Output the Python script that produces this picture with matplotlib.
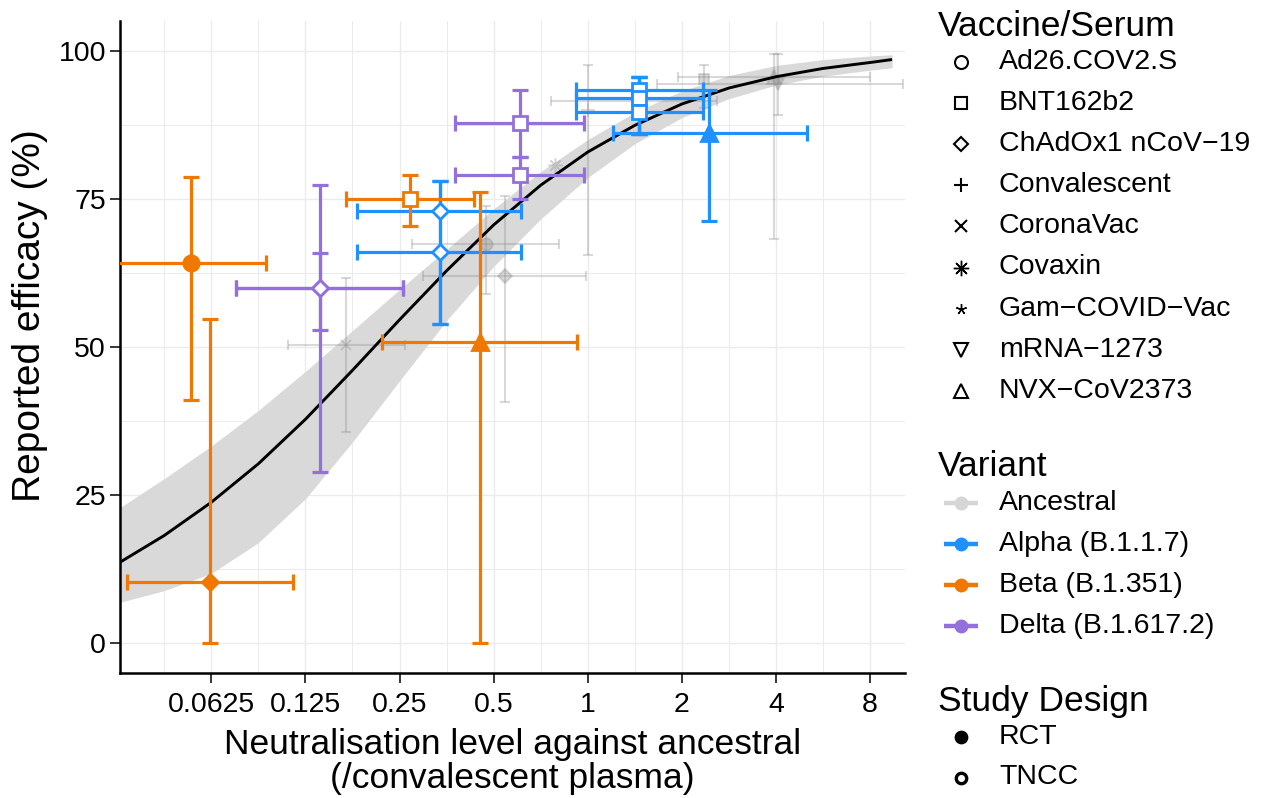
"""Efficacy against neutralisation level, by variant, vaccine and study design."""

import numpy as np
import matplotlib
matplotlib.use('agg')
from matplotlib import pyplot
from matplotlib.ticker import FixedLocator, NullFormatter

pyplot.rcParams['font.family'] = ['Liberation Sans', 'DejaVu Sans']

OUTPUT_FILE_NAME = 'out.png'

# fitted curve and its band
CURVE_NEUT = [0.03125, 0.0442, 0.0625, 0.0884, 0.125, 0.177, 0.25, 0.354,
              0.5, 0.707, 1.0, 1.414, 2.0, 2.83, 4.0, 5.66, 8.0, 9.4]
CURVE_EFFICACY = [13.4, 18.2, 23.8, 30.3, 37.8, 46.1, 54.6, 62.9,
                  70.6, 77.3, 82.9, 87.4, 91.0, 93.7, 95.6, 97.0, 98.0, 98.5]
BAND_LOWER = [6.8, 8.9, 11.8, 17.0, 24.4, 34.0, 44.3, 54.5,
              63.6, 71.6, 78.6, 84.3, 88.7, 91.9, 94.2, 95.7, 96.7, 97.1]
BAND_UPPER = [22.6, 27.8, 33.3, 39.3, 45.9, 52.8, 59.7, 66.5,
              73.3, 79.6, 85.0, 89.6, 93.2, 95.8, 97.5, 98.5, 99.1, 99.3]

# one entry per study
NAN = np.nan
VARIANT = ['Ancestral'] * 9 + ['Alpha (B.1.1.7)'] * 6 + \
    ['Beta (B.1.351)'] * 4 + ['Delta (B.1.617.2)'] * 4
VACCINE = [
    'Ad26.COV2.S', 'ChAdOx1 nCoV−19', 'CoronaVac', 'Covaxin', 'Convalescent',
    'Gam−COVID−Vac', 'BNT162b2', 'mRNA−1273', 'NVX−CoV2373',
    'ChAdOx1 nCoV−19', 'ChAdOx1 nCoV−19', 'BNT162b2', 'BNT162b2', 'BNT162b2',
    'NVX−CoV2373',
    'Ad26.COV2.S', 'ChAdOx1 nCoV−19', 'NVX−CoV2373', 'BNT162b2',
    'ChAdOx1 nCoV−19', 'ChAdOx1 nCoV−19', 'BNT162b2', 'BNT162b2'
]
DESIGN = ['RCT'] * 9 + ['TNCC'] * 5 + ['RCT'] + ['RCT'] * 3 + ['TNCC'] + \
    ['TNCC'] * 4
NEUT = [0.474, 0.543, 0.169, 0.784, 1.0, 1.42, 2.36, 4.06, 3.94,
        0.336, 0.336, 1.46, 1.46, 1.46, 2.44,
        0.0537, 0.0617, 0.451, 0.270,
        0.139, 0.139, 0.606, 0.606]
NEUT_LOW = [0.275, 0.297, 0.110, NAN, NAN, 0.765, NAN, 1.66, 1.944,
            0.183, 0.183, 0.92, 0.92, 0.92, 1.20,
            0.02, 0.0336, 0.2205, 0.169,
            0.0752, 0.0752, 0.376, 0.376]
NEUT_HIGH = [0.809, 0.986, 0.260, NAN, NAN, 2.58, NAN, 10.2, 7.99,
             0.613, 0.613, 2.34, 2.34, 2.34, 5.01,
             0.0932, 0.1139, 0.924, 0.432,
             0.2564, 0.2564, 0.973, 0.973]
EFFICACY = [67.3, 61.9, 50.3, 80.7, 90.0, 91.5, 95.2, 94.3, 95.6,
            72.9, 66.0, 93.4, 92.0, 89.6, 86.1,
            64.1, 10.4, 50.8, 74.9,
            59.9, 59.9, 87.8, 79.0]
EFFICACY_LOW = [59.0, 40.7, 35.7, NAN, 65.5, NAN, 90.3, 89.1, 68.2,
                53.9, 53.9, 85.9, 85.9, 85.9, 71.3,
                41.1, 0.0, 0.0, 70.4,
                28.9, 52.9, 82.0, 75.0]
EFFICACY_HIGH = [73.8, 75.5, 61.6, NAN, 97.6, NAN, 97.5, 99.4, 99.4,
                 78.0, 78.0, 95.6, 95.6, 95.6, 93.4,
                 78.7, 54.7, 76.2, 79.0,
                 77.3, 65.9, 93.3, 82.0]

VACCINE_NAMES = ['Ad26.COV2.S', 'BNT162b2', 'ChAdOx1 nCoV−19', 'Convalescent',
                 'CoronaVac', 'Covaxin', 'Gam−COVID−Vac', 'mRNA−1273',
                 'NVX−CoV2373']
VARIANT_NAMES = ['Ancestral', 'Alpha (B.1.1.7)', 'Beta (B.1.351)',
                 'Delta (B.1.617.2)']
DESIGN_NAMES = ['RCT', 'TNCC']

X_TICK_VALUES = [0.0625, 0.125, 0.25, 0.5, 1, 2, 4, 8]
X_TICK_LABELS = ['0.0625', '0.125', '0.25', '0.5', '1', '2', '4', '8']
Y_TICK_VALUES = [0, 25, 50, 75, 100]

VARIANT_COLOURS = {
    'Ancestral': '#8C8C8C',
    'Alpha (B.1.1.7)': '#1E90FF',
    'Beta (B.1.351)': '#F07800',
    'Delta (B.1.617.2)': '#9370DB'
}
LEGEND_VARIANT_COLOURS = ['#D6D6D6', '#1E90FF', '#F07800', '#9370DB']
VACCINE_MARKERS = {
    'Ad26.COV2.S': 'o', 'BNT162b2': 's', 'ChAdOx1 nCoV−19': 'D',
    'Convalescent': '+', 'CoronaVac': 'x', 'Covaxin': (8, 2, 0),
    'Gam−COVID−Vac': (5, 2, 0), 'mRNA−1273': 'v', 'NVX−CoV2373': '^'
}
MARKER_SIZES = {
    'o': 11, 's': 9.5, 'D': 8.5, '+': 12, 'x': 9.5, 'v': 11.5, '^': 12
}
STAR_SIZES = {'Covaxin': 13, 'Gam−COVID−Vac': 9}

FIGURE_WIDTH_PX = 1267
FIGURE_HEIGHT_PX = 798
GRID_COLOUR = '#EBEBEB'
BAND_COLOUR = '#D9D9D9'


def _marker_size(name):
    """Returns marker size (points) for one vaccine."""

    if name in STAR_SIZES:
        return STAR_SIZES[name]
    return MARKER_SIZES[VACCINE_MARKERS[name]]


def _plot_study(axes_object, i):
    """Plots one study (point with horizontal and vertical error bars)."""

    variant = VARIANT[i]
    is_ancestral = variant == 'Ancestral'
    colour = VARIANT_COLOURS[variant]
    alpha = 0.33 if is_ancestral else 1.
    line_width = 1.5 if is_ancestral else 2.3
    cap_size = 3.5 if is_ancestral else 5.5
    z_order = 2 if is_ancestral else 4

    x = NEUT[i]
    y = EFFICACY[i]

    if not np.isnan(EFFICACY_LOW[i]):
        axes_object.errorbar(
            [x], [y], yerr=[[y - EFFICACY_LOW[i]], [EFFICACY_HIGH[i] - y]],
            fmt='none', ecolor=colour, elinewidth=line_width,
            capsize=cap_size, capthick=line_width, alpha=alpha, zorder=z_order
        )
    if not np.isnan(NEUT_LOW[i]):
        axes_object.errorbar(
            [x], [y], xerr=[[x - NEUT_LOW[i]], [NEUT_HIGH[i] - x]],
            fmt='none', ecolor=colour, elinewidth=line_width,
            capsize=cap_size, capthick=line_width, alpha=alpha, zorder=z_order
        )

    marker = VACCINE_MARKERS[VACCINE[i]]
    size = _marker_size(VACCINE[i])
    edge_width = 2.0
    if is_ancestral:
        size = size * 0.8
        edge_width = 1.4
    if VACCINE[i] in STAR_SIZES:
        edge_width = 1.1

    if DESIGN[i] == 'TNCC':
        face_colour = 'white'
    else:
        face_colour = colour

    axes_object.plot(
        x, y, linestyle='none', marker=marker, markersize=size,
        markerfacecolor=face_colour, markeredgecolor=colour,
        markeredgewidth=edge_width, alpha=alpha, zorder=z_order + 0.5
    )


def _plot_legend(figure_object):
    """Draws the three legends to the right of the plot."""

    legend_axes = figure_object.add_axes([0, 0, 1, 1])
    legend_axes.set_xlim(0, FIGURE_WIDTH_PX)
    legend_axes.set_ylim(FIGURE_HEIGHT_PX, 0)
    legend_axes.axis('off')

    title_size = 25.5
    entry_size = 20.5
    marker_x = 961
    text_x = 999
    step = 41.1

    legend_axes.text(938, 27, 'Vaccine/Serum', fontsize=title_size,
                     va='center', ha='left')
    for j, name in enumerate(VACCINE_NAMES):
        y = 62 + j * step
        marker = VACCINE_MARKERS[name]
        size = _marker_size(name) * 0.85
        edge_width = 1.0 if name in STAR_SIZES else 1.5
        legend_axes.plot(marker_x, y, linestyle='none', marker=marker,
                         markersize=size, markerfacecolor='white',
                         markeredgecolor='black', markeredgewidth=edge_width)
        legend_axes.text(text_x, y, name, fontsize=entry_size, va='center',
                         ha='left')

    legend_axes.text(938, 467, 'Variant', fontsize=title_size,
                     va='center', ha='left')
    for j, name in enumerate(VARIANT_NAMES):
        y = 503 + j * step
        colour = LEGEND_VARIANT_COLOURS[j]
        legend_axes.plot([944, 978], [y, y], color=colour, linewidth=3.2,
                         solid_capstyle='butt')
        legend_axes.plot(marker_x, y, linestyle='none', marker='o',
                         markersize=9, color=colour)
        legend_axes.text(text_x, y, name, fontsize=entry_size, va='center',
                         ha='left')

    legend_axes.text(938, 701, 'Study Design', fontsize=title_size,
                     va='center', ha='left')
    for j, name in enumerate(DESIGN_NAMES):
        y = 737 + j * 40.5
        face_colour = 'black' if name == 'RCT' else 'white'
        legend_axes.plot(marker_x, y, linestyle='none', marker='o',
                         markersize=7.5, markerfacecolor=face_colour,
                         markeredgecolor='black', markeredgewidth=2.4)
        legend_axes.text(text_x, y, name, fontsize=entry_size, va='center',
                         ha='left')


def _run():
    """Creates the figure and saves it.  Effectively the main method."""

    figure_object = pyplot.figure(
        figsize=(FIGURE_WIDTH_PX / 100., FIGURE_HEIGHT_PX / 100.), dpi=100
    )
    axes_object = figure_object.add_axes([
        120. / FIGURE_WIDTH_PX, 1 - 673. / FIGURE_HEIGHT_PX,
        (905. - 120) / FIGURE_WIDTH_PX, (673. - 21) / FIGURE_HEIGHT_PX
    ])

    axes_object.set_xscale('log', base=2)
    axes_object.set_xlim(2 ** -4.97, 2 ** 3.37)
    axes_object.set_ylim(-5, 105)

    axes_object.fill_between(CURVE_NEUT, BAND_LOWER, BAND_UPPER,
                             color=BAND_COLOUR, linewidth=0, zorder=1)
    axes_object.plot(CURVE_NEUT, CURVE_EFFICACY, color='black',
                     linewidth=2.1, zorder=3, solid_capstyle='butt',
                     solid_joinstyle='round')

    for i in range(len(NEUT)):
        _plot_study(axes_object, i)

    axes_object.xaxis.set_major_locator(FixedLocator(X_TICK_VALUES))
    axes_object.set_xticklabels(X_TICK_LABELS)
    minor_x = [t * np.sqrt(2) for t in [2 ** -5] + X_TICK_VALUES]
    axes_object.xaxis.set_minor_locator(FixedLocator(minor_x))
    axes_object.xaxis.set_minor_formatter(NullFormatter())
    axes_object.yaxis.set_major_locator(FixedLocator(Y_TICK_VALUES))
    axes_object.yaxis.set_minor_locator(FixedLocator([12.5, 37.5, 62.5, 87.5]))

    axes_object.grid(which='major', color=GRID_COLOUR, linewidth=1.0,
                     zorder=0)
    axes_object.grid(which='minor', color=GRID_COLOUR, linewidth=0.7,
                     zorder=0)
    axes_object.set_axisbelow(True)

    for side in ['top', 'right']:
        axes_object.spines[side].set_visible(False)
    for side in ['left', 'bottom']:
        axes_object.spines[side].set_linewidth(1.8)
        axes_object.spines[side].set_color('black')

    axes_object.tick_params(which='major', length=7, width=1.1,
                            color='black', labelsize=20.5,
                            labelcolor='black')
    axes_object.tick_params(axis='x', which='major', pad=7)
    axes_object.tick_params(axis='y', which='major', pad=3)
    axes_object.tick_params(which='minor', length=0)

    axes_object.set_ylabel('Reported efficacy (%)', fontsize=28)
    axes_object.yaxis.set_label_coords(-0.0917, 0.5475)
    axes_object.set_xlabel(
        'Neutralisation level against ancestral\n(/convalescent plasma)',
        fontsize=25.5, labelpad=7, linespacing=1.05
    )

    _plot_legend(figure_object)

    figure_object.savefig(OUTPUT_FILE_NAME, dpi=100)
    pyplot.close(figure_object)


if __name__ == '__main__':
    _run()
